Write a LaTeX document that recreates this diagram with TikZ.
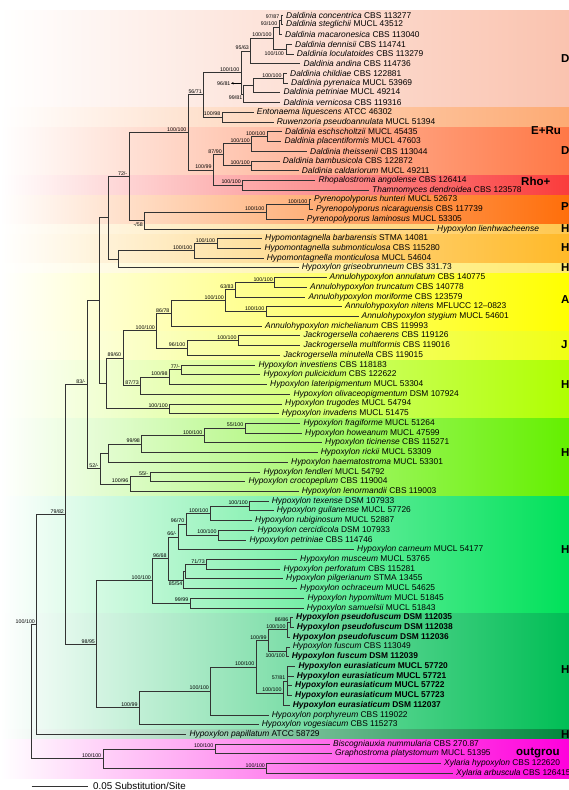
\documentclass[tikz,border=0pt]{standalone}
\usepackage{fontspec}
\setmainfont{Liberation Sans}
\usetikzlibrary{arrows.meta}
\definecolor{cA}{RGB}{250,195,175}
\definecolor{cB}{RGB}{253,170,115}
\definecolor{cC}{RGB}{255,120,70}
\definecolor{cD}{RGB}{250,60,60}
\definecolor{cE}{RGB}{255,110,10}
\definecolor{cF}{RGB}{255,200,80}
\definecolor{cG}{RGB}{255,185,40}
\definecolor{cH}{RGB}{255,235,110}
\definecolor{cI}{RGB}{255,255,0}
\definecolor{cJ}{RGB}{240,255,20}
\definecolor{cK}{RGB}{175,255,0}
\definecolor{cL}{RGB}{100,240,0}
\definecolor{cM}{RGB}{0,225,90}
\definecolor{cN}{RGB}{0,190,85}
\definecolor{cO}{RGB}{0,135,60}
\definecolor{cP}{RGB}{255,0,220}
\newcommand\lf[2]{\textit{#1} #2}
\newcommand\lfb[2]{\textbf{\textit{#1} #2}}
\tikzset{
  br/.style={line width=0.6pt, draw=black!80},
  leaf/.style={anchor=west, inner xsep=3pt, inner ysep=0pt, font=\fontsize{8.4}{9}\selectfont},
  sup/.style={anchor=south east, inner sep=0.4pt, xshift=-1.2pt, yshift=0.5pt, font=\fontsize{5.3}{6}\selectfont},
  supx/.style={inner sep=0.4pt, font=\fontsize{5.3}{6}\selectfont},
  grp/.style={anchor=west, inner sep=0pt, font=\fontsize{11.5}{13}\bfseries\selectfont},
  band/.style={left color=white, right color=#1},
}
\begin{document}
\begin{tikzpicture}[x=1pt,y=-1pt]
\useasboundingbox (0,0) rectangle (569,790);
% background bands
\shade[band=cA] (0,10.1) rectangle (569,107.3);
\shade[band=cB] (0,107.3) rectangle (569,127);
\shade[band=cC] (0,127) rectangle (569,175.6);
\shade[band=cD] (0,175.6) rectangle (569,195);
\shade[band=cE] (0,195) rectangle (569,224.2);
\shade[band=cF] (0,224.2) rectangle (569,234);
\shade[band=cG] (0,234) rectangle (569,263.2);
\shade[band=cH] (0,263.2) rectangle (569,273);
\shade[band=cI] (0,273) rectangle (569,331.3);
\shade[band=cJ] (0,331.3) rectangle (569,360.4);
\shade[band=cK] (0,360.4) rectangle (569,418.8);
\shade[band=cL] (0,418.8) rectangle (569,496.5);
\shade[band=cM] (0,496.5) rectangle (569,613.2);
\shade[band=cN] (0,613.2) rectangle (569,729.8);
\shade[band=cO] (0,729.8) rectangle (569,739.5);
\shade[band=cP] (0,739.5) rectangle (569,778.5);

% leaves
\node[leaf] (l1) at (283,15) {\lf{Daldinia concentrica}{CBS 113277}};
\node[leaf] (l2) at (283,24.72) {\lf{Daldinia steglichii}{MUCL 43512}};
\node[leaf] (l3) at (282,34.44) {\lf{Daldinia macaronesica}{CBS 113040}};
\node[leaf] (l4) at (292,44.16) {\lf{Daldinia dennisii}{CBS 114741}};
\node[leaf] (l5) at (293.7,53.88) {\lf{Daldinia loculatoides}{CBS 113279}};
\node[leaf] (l6) at (300.3,63.6) {\lf{Daldinia andina}{CBS 114736}};
\node[leaf] (l7) at (287,73.32) {\lf{Daldinia childiae}{CBS 122881}};
\node[leaf] (l8) at (288,83.04) {\lf{Daldinia pyrenaica}{MUCL 53969}};
\node[leaf] (l9) at (280.3,92.76) {\lf{Daldinia petriniae}{MUCL 49214}};
\node[leaf] (l10) at (280.3,102.48) {\lf{Daldinia vernicosa}{CBS 119316}};
\node[leaf] (l11) at (253.7,112.2) {\lf{Entonaema liquescens}{ATCC 46302}};
\node[leaf] (l12) at (273.7,121.92) {\lf{Ruwenzoria pseudoannulata}{MUCL 51394}};
\node[leaf] (l13) at (282,131.64) {\lf{Daldinia eschscholtzii}{MUCL 45435}};
\node[leaf] (l14) at (281.3,141.36) {\lf{Daldinia placentiformis}{MUCL 47603}};
\node[leaf] (l15) at (307,151.08) {\lf{Daldinia theissenii}{CBS 113044}};
\node[leaf] (l16) at (279.7,160.8) {\lf{Daldinia bambusicola}{CBS 122872}};
\node[leaf] (l17) at (298.7,170.52) {\lf{Daldinia caldariorum}{MUCL 49211}};
\node[leaf] (l18) at (315.3,180.24) {\lf{Rhopalostroma angolense}{CBS 126414}};
\node[leaf] (l19) at (369,189.96) {\lf{Thamnomyces dendroidea}{CBS 123578}};
\node[leaf] (l20) at (311,199.68) {\lf{Pyrenopolyporus hunteri}{MUCL 52673}};
\node[leaf] (l21) at (313,209.4) {\lf{Pyrenopolyporus nicaraguensis}{CBS 117739}};
\node[leaf] (l22) at (303.7,219.12) {\lf{Pyrenopolyporus laminosus}{MUCL 53305}};
\node[leaf] (l23) at (434,228.84) {\textit{Hypoxylon lienhwacheense}};
\node[leaf] (l24) at (262,238.56) {\lf{Hypomontagnella barbarensis}{STMA 14081}};
\node[leaf] (l25) at (261.3,248.28) {\lf{Hypomontagnella submonticulosa}{CBS 115280}};
\node[leaf] (l26) at (263.7,258) {\lf{Hypomontagnella monticulosa}{MUCL 54604}};
\node[leaf] (l27) at (298.7,267.72) {\lf{Hypoxylon griseobrunneum}{CBS 331.73}};
\node[leaf] (l28) at (326.5,277.44) {\lf{Annulohypoxylon annulatum}{CBS 140775}};
\node[leaf] (l29) at (307,287.16) {\lf{Annulohypoxylon truncatum}{CBS 140778}};
\node[leaf] (l30) at (305.3,296.88) {\lf{Annulohypoxylon moriforme}{CBS 123579}};
\node[leaf] (l31) at (342,306.6) {\lf{Annulohypoxylon nitens}{MFLUCC 12–0823}};
\node[leaf] (l32) at (358.5,316.32) {\lf{Annulohypoxylon stygium}{MUCL 54601}};
\node[leaf] (l33) at (262,326.04) {\lf{Annulohypoxylon michelianum}{CBS 119993}};
\node[leaf] (l34) at (300.3,335.76) {\lf{Jackrogersella cohaerens}{CBS 119126}};
\node[leaf] (l35) at (300.3,345.48) {\lf{Jackrogersella multiformis}{CBS 119016}};
\node[leaf] (l36) at (280.3,355.2) {\lf{Jackrogersella minutella}{CBS 119015}};
\node[leaf] (l37) at (255.3,364.92) {\lf{Hypoxylon investiens}{CBS 118183}};
\node[leaf] (l38) at (260.3,374.64) {\lf{Hypoxylon pulicicidum}{CBS 122622}};
\node[leaf] (l39) at (267,384.36) {\lf{Hypoxylon lateripigmentum}{MUCL 53304}};
\node[leaf] (l40) at (290.3,394.08) {\lf{Hypoxylon olivaceopigmentum}{DSM 107924}};
\node[leaf] (l41) at (282,403.8) {\lf{Hypoxylon trugodes}{MUCL 54794}};
\node[leaf] (l42) at (278.7,413.52) {\lf{Hypoxylon invadens}{MUCL 51475}};
\node[leaf] (l43) at (300.3,423.24) {\lf{Hypoxylon fragiforme}{MUCL 51264}};
\node[leaf] (l44) at (302,432.96) {\lf{Hypoxylon howeanum}{MUCL 47599}};
\node[leaf] (l45) at (322,442.68) {\lf{Hypoxylon ticinense}{CBS 115271}};
\node[leaf] (l46) at (317.7,452.4) {\lf{Hypoxylon rickii}{MUCL 53309}};
\node[leaf] (l47) at (288,462.12) {\lf{Hypoxylon haematostroma}{MUCL 53301}};
\node[leaf] (l48) at (260.3,471.84) {\lf{Hypoxylon fendleri}{MUCL 54792}};
\node[leaf] (l49) at (245.3,481.56) {\lf{Hypoxylon crocopeplum}{CBS 119004}};
\node[leaf] (l50) at (298.7,491.28) {\lf{Hypoxylon lenormandii}{CBS 119003}};
\node[leaf] (l51) at (268.7,501) {\lf{Hypoxylon texense}{DSM 107933}};
\node[leaf] (l52) at (273.7,510.72) {\lf{Hypoxylon guilanense}{MUCL 57726}};
\node[leaf] (l53) at (252,520.44) {\lf{Hypoxylon rubiginosum}{MUCL 52887}};
\node[leaf] (l54) at (254.3,530.16) {\lf{Hypoxylon cercidicola}{DSM 107933}};
\node[leaf] (l55) at (246.3,539.88) {\lf{Hypoxylon petriniae}{CBS 114746}};
\node[leaf] (l56) at (354,549.6) {\lf{Hypoxylon carneum}{MUCL 54177}};
\node[leaf] (l57) at (297,559.32) {\lf{Hypoxylon musceum}{MUCL 53765}};
\node[leaf] (l58) at (280.3,569.04) {\lf{Hypoxylon perforatum}{CBS 115281}};
\node[leaf] (l59) at (283,578.76) {\lf{Hypoxylon pilgerianum}{STMA 13455}};
\node[leaf] (l60) at (297,588.48) {\lf{Hypoxylon ochraceum}{MUCL 54625}};
\node[leaf] (l61) at (304.3,598.2) {\lf{Hypoxylon hypomiltum}{MUCL 51845}};
\node[leaf] (l62) at (303.7,607.92) {\lf{Hypoxylon samuelsii}{MUCL 51843}};
\node[leaf] (l63) at (293,617.64) {\lfb{Hypoxylon pseudofuscum}{DSM 112035}};
\node[leaf] (l64) at (293.7,627.36) {\lfb{Hypoxylon pseudofuscum}{DSM 112038}};
\node[leaf] (l65) at (289.7,637.08) {\lfb{Hypoxylon pseudofuscum}{DSM 112036}};
\node[leaf] (l66) at (289.7,646.8) {\lf{Hypoxylon fuscum}{CBS 113049}};
\node[leaf] (l67) at (288.7,656.52) {\lfb{Hypoxylon fuscum}{DSM 112039}};
\node[leaf] (l68) at (295.3,666.24) {\lfb{Hypoxylon eurasiaticum}{MUCL 57720}};
\node[leaf] (l69) at (293.7,675.96) {\lfb{Hypoxylon eurasiaticum}{MUCL 57721}};
\node[leaf] (l70) at (292,685.68) {\lfb{Hypoxylon eurasiaticum}{MUCL 57722}};
\node[leaf] (l71) at (292,695.4) {\lfb{Hypoxylon eurasiaticum}{MUCL 57723}};
\node[leaf] (l72) at (289.7,705.12) {\lfb{Hypoxylon eurasiaticum}{DSM 112037}};
\node[leaf] (l73) at (268.7,714.84) {\lf{Hypoxylon porphyreum}{CBS 119022}};
\node[leaf] (l74) at (258.7,724.56) {\lf{Hypoxylon vogesiacum}{CBS 115273}};
\node[leaf] (l75) at (186.3,734.28) {\lf{Hypoxylon papillatum}{ATCC 58729}};
\node[leaf] (l76) at (330,744) {\lf{Biscogniauxia nummularia}{CBS 270.87}};
\node[leaf] (l77) at (332,753.72) {\lf{Graphostroma platystomum}{MUCL 51395}};
\node[leaf] (l78) at (441,763.44) {\lf{Xylaria hypoxylon}{CBS 122620}};
\node[leaf] (l79) at (453,773.16) {\lf{Xylaria arbuscula}{CBS 126415}};

% internal nodes
\coordinate (A) at (281,19.86);
\coordinate (B) at (279,27.15);
\coordinate (Dd) at (286,49.02);
\coordinate (C) at (273.3,38.09);
\coordinate (D) at (250.7,50.85);
\coordinate (CP) at (283.3,78.18);
\coordinate (H) at (253.3,85.47);
\coordinate (G) at (243.5,93.98);
\coordinate (E) at (241,72.41);
\coordinate (ER) at (222,117.06);
\coordinate (F) at (203.6,94.74);
\coordinate (Es) at (267,136.5);
\coordinate (Pl) at (251.5,143.79);
\coordinate (BC) at (251.5,165.66);
\coordinate (N87) at (223.5,154.73);
\coordinate (RT) at (242.5,185.1);
\coordinate (N199) at (213.3,169.92);
\coordinate (BigD) at (188.2,132.33);
\coordinate (HN) at (309,204.54);
\coordinate (Pc) at (266,211.83);
\coordinate (N58) at (144,220.34);
\coordinate (N72) at (129,176.34);
\coordinate (BS) at (216.8,243.42);
\coordinate (Hm) at (194,250.71);
\coordinate (Hg) at (118.2,259.22);
\coordinate (N108) at (108,217.78);
\coordinate (AT) at (274.5,282.3);
\coordinate (N63) at (235.4,289.59);
\coordinate (NS) at (266,311.46);
\coordinate (AC) at (225.6,300.53);
\coordinate (N86) at (171.2,313.29);
\coordinate (CM) at (238.3,340.62);
\coordinate (N96) at (187,347.91);
\coordinate (AJ) at (156.7,330.6);
\coordinate (N77) at (181.7,369.78);
\coordinate (N198) at (169.3,377.07);
\coordinate (N873) at (140.5,385.58);
\coordinate (N89) at (122.8,358.09);
\coordinate (TI) at (169.5,408.66);
\coordinate (N105) at (105.8,383.38);
\coordinate (N99) at (99.2,300.58);
\coordinate (FH) at (245,428.1);
\coordinate (Nf) at (204,435.39);
\coordinate (N998) at (141.7,443.9);
\coordinate (Nh) at (108.3,453.01);
\coordinate (N55) at (150,476.7);
\coordinate (N196) at (130,483.99);
\coordinate (N52) at (100.3,468.5);
\coordinate (N83) at (87.3,384.54);
\coordinate (TG) at (249.5,505.86);
\coordinate (Nr) at (210,513.15);
\coordinate (CPt) at (218.3,535.02);
\coordinate (N970) at (186,524.09);
\coordinate (N66) at (178.3,536.84);
\coordinate (N71) at (206.5,564.18);
\coordinate (Npil) at (185.5,571.47);
\coordinate (N85) at (183.3,579.98);
\coordinate (N968) at (168.3,558.41);
\coordinate (N999) at (190,603.06);
\coordinate (NL) at (152.7,580.74);
\coordinate (N886) at (290,622.5);
\coordinate (Nps) at (287.3,629.79);
\coordinate (Nfu) at (286,651.66);
\coordinate (Npf) at (268.3,640.73);
\coordinate (N57) at (287,680.82);
\coordinate (Neu) at (283.3,692.97);
\coordinate (Npe) at (256,666.85);
\coordinate (Npo) at (210.7,690.85);
\coordinate (Nvo) at (139.3,707.71);
\coordinate (N98) at (96.7,644.23);
\coordinate (N79) at (65.7,514.39);
\coordinate (Ning) at (36.7,624.34);
\coordinate (Bis) at (215,748.86);
\coordinate (Xyl) at (266.7,768.3);
\coordinate (Nout) at (103,758.58);
\coordinate (Root) at (31.7,691.46);

% branches
\foreach \p/\c in {A/l1.west, A/l2.west, B/A, B/l3.west, Dd/l4.west, Dd/l5.west, C/B, C/Dd,
  D/C, D/l6.west, CP/l7.west, CP/l8.west, H/CP, H/l9.west, G/H, G/l10.west, E/D, E/G,
  ER/l11.west, ER/l12.west, F/E, F/ER, Es/l13.west, Es/l14.west, Pl/Es, Pl/l15.west,
  BC/l16.west, BC/l17.west, N87/Pl, N87/BC, RT/l18.west, RT/l19.west, N199/N87, N199/RT,
  BigD/F, BigD/N199, HN/l20.west, HN/l21.west, Pc/HN, Pc/l22.west, N58/Pc, N58/l23.west,
  N72/BigD, N72/N58, BS/l24.west, BS/l25.west, Hm/BS, Hm/l26.west, Hg/Hm, Hg/l27.west,
  N108/N72, N108/Hg, AT/l28.west, AT/l29.west, N63/AT, N63/l30.west, NS/l31.west, NS/l32.west,
  AC/N63, AC/NS, N86/AC, N86/l33.west, CM/l34.west, CM/l35.west, N96/CM, N96/l36.west,
  AJ/N86, AJ/N96, N77/l37.west, N77/l38.west, N198/N77, N198/l39.west, N873/N198, N873/l40.west,
  N89/AJ, N89/N873, TI/l41.west, TI/l42.west, N105/N89, N105/TI, N99/N108, N99/N105,
  FH/l43.west, FH/l44.west, Nf/FH, Nf/l45.west, N998/Nf, N998/l46.west, Nh/N998, Nh/l47.west,
  N55/l48.west, N55/l49.west, N196/N55, N196/l50.west, N52/Nh, N52/N196, N83/N99, N83/N52,
  TG/l51.west, TG/l52.west, Nr/TG, Nr/l53.west, CPt/l54.west, CPt/l55.west, N970/Nr, N970/CPt,
  N66/N970, N66/l56.west, N71/l57.west, N71/l58.west, Npil/N71, Npil/l59.west, N85/Npil, N85/l60.west,
  N968/N66, N968/N85, N999/l61.west, N999/l62.west, NL/N968, NL/N999,
  N886/l63.west, N886/l64.west, Nps/N886, Nps/l65.west, Nfu/l66.west, Nfu/l67.west, Npf/Nps, Npf/Nfu,
  N57/l68.west, N57/l69.west, N57/l70.west, N57/l71.west, Neu/N57, Neu/l72.west, Npe/Npf, Npe/Neu,
  Npo/Npe, Npo/l73.west, Nvo/Npo, Nvo/l74.west, N98/NL, N98/Nvo, N79/N83, N79/N98,
  Ning/N79, Ning/l75.west, Bis/l76.west, Bis/l77.west, Xyl/l78.west, Xyl/l79.west,
  Nout/Bis, Nout/Xyl, Root/Ning, Root/Nout}
  \draw[br] (\p) |- (\c);

% support values
\node[sup] (sA) at (A) {97/87};
\node[sup] (sB) at (B) {93/100};
\node[sup] (sC) at (C) {100/100};
\node[sup] (sD) at (D) {95/63};
\node[supx, anchor=east] (sDd) at (284.5,53.5) {100/100};
\node[sup] (sE) at (E) {100/100};
\node[sup] (sCP) at (CP) {100/100};
\node[supx, anchor=east] (sH) at (231,83.3) {96/81};
\draw[line width=0.45pt, -{Stealth[length=2.6pt,width=2.4pt]}] (240.6,83.3) -- (sH.east);
\node[supx, anchor=north east] (sG) at (242.8,95) {99/81};
\node[sup] (sF) at (F) {56/71};
\node[sup] (sER) at (ER) {100/98};
\node[sup] (sBigD) at (BigD) {100/100};
\node[sup] (sEs) at (Es) {100/100};
\node[sup] (sPl) at (Pl) {100/100};
\node[sup] (sN87) at (N87) {87/90};
\node[sup] (sBC) at (BC) {100/100};
\node[sup] (sN199) at (N199) {100/99};
\node[sup] (sN72) at (N72) {72/-};
\node[sup] (sRT) at (RT) {100/100};
\node[sup] (sHN) at (HN) {100/100};
\node[sup] (sPc) at (Pc) {100/100};
\node[supx, anchor=north east] (sN58) at (143.3,222.3) {-/58};
\node[sup] (sBS) at (BS) {100/100};
\node[sup] (sHm) at (Hm) {100/100};
\node[sup] (sAT) at (AT) {100/100};
\node[sup] (sN63) at (N63) {63/83};
\node[sup] (sAC) at (AC) {100/100};
\node[sup] (sNS) at (NS) {100/100};
\node[sup] (sN86) at (N86) {86/78};
\node[sup] (sAJ) at (AJ) {100/100};
\node[sup] (sCM) at (CM) {100/100};
\node[sup] (sN96) at (N96) {96/100};
\node[sup] (sN89) at (N89) {89/60};
\node[sup] (sN77) at (N77) {77/-};
\node[sup] (sN198) at (N198) {100/98};
\node[sup] (sN873) at (N873) {87/73};
\node[sup] (sN83) at (N83) {83/-};
\node[sup] (sTI) at (TI) {100/100};
\node[sup] (sFH) at (FH) {55/100};
\node[sup] (sNf) at (Nf) {100/100};
\node[sup] (sN998) at (N998) {99/98};
\node[sup] (sN52) at (N52) {52/-};
\node[sup] (sN55) at (N55) {55/-};
\node[sup] (sN196) at (N196) {100/96};
\node[sup] (sTG) at (TG) {100/100};
\node[sup] (sN79) at (N79) {79/82};
\node[sup] (sNr) at (Nr) {100/100};
\node[sup] (sN970) at (N970) {96/70};
\node[sup] (sCPt) at (CPt) {100/100};
\node[sup] (sN66) at (N66) {66/-};
\node[sup] (sN968) at (N968) {96/68};
\node[sup] (sN71) at (N71) {71/73};
\node[sup] (sNL) at (NL) {100/100};
\node[supx, anchor=north east] (sN85) at (182.8,581.2) {85/54};
\node[sup] (sN999) at (N999) {99/99};
\node[sup] (sN886) at (N886) {86/86};
\node[sup] (sNing) at (Ning) {100/100};
\node[sup] (sNps) at (Nps) {100/100};
\node[sup] (sNpf) at (Npf) {100/99};
\node[sup] (sN98) at (N98) {98/95};
\node[supx, anchor=north east] (sNfu) at (285.3,653.2) {100/100};
\node[sup] (sNpe) at (Npe) {100/100};
\node[sup] (sN57) at (N57) {57/81};
\node[sup] (sNpo) at (Npo) {100/100};
\node[sup] (sNeu) at (Neu) {100/100};
\node[sup] (sNvo) at (Nvo) {100/99};
\node[sup] (sBis) at (Bis) {100/100};
\node[sup] (sNout) at (Nout) {100/100};
\node[sup] (sXyl) at (Xyl) {100/100};

% group labels
\node[grp] (g1) at (561,58.3) {D};
\node[grp] (g2) at (531,131) {E+Ru};
\node[grp] (g3) at (561,151) {D};
\node[grp] (g4) at (521,181) {Rho+};
\node[grp] (g5) at (561,207) {P};
\node[grp] (g6) at (561,228.8) {H};
\node[grp] (g7) at (561,248) {H};
\node[grp] (g8) at (561,267.7) {H};
\node[grp] (g9) at (561,300) {A};
\node[grp] (g10) at (561,345) {J};
\node[grp] (g11) at (561,384.3) {H};
\node[grp] (g12) at (561,452.7) {H};
\node[grp] (g13) at (561,549.5) {H};
\node[grp] (g14) at (561,669.3) {H};
\node[grp] (g15) at (561,734.3) {H};
\node[grp] (g16) at (516,753.3) {outgrou};

% scale bar
\coordinate (sb1) at (31.7,786);
\coordinate (sb2) at (88.3,786);
\draw[br] (sb1) -- (sb2);
\node[anchor=west, inner sep=0pt, font=\fontsize{9.8}{11}\selectfont] (sbt) at (93,786) {0.05 Substitution/Site};
\end{tikzpicture}
\end{document}
